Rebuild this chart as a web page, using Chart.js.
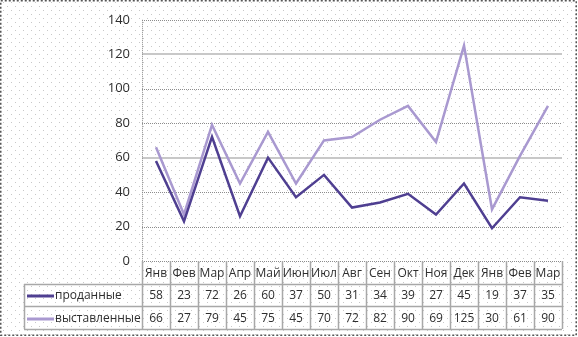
<!DOCTYPE html>
<html>
<head>
<meta charset="utf-8">
<script src="https://cdn.jsdelivr.net/npm/chart.js@4.4.1/dist/chart.umd.min.js"></script>
<style>
  html, body { margin: 0; padding: 0; background: #fff; }
  #salesChart { display: block; }
</style>
</head>
<body>
<canvas id="salesChart" width="578" height="337"></canvas>
<script>
// Месяцы и значения рядов
const months = ["Янв", "Фев", "Мар", "Апр", "Май", "Июн", "Июл", "Авг", "Сен", "Окт", "Ноя", "Дек", "Янв", "Фев", "Мар"]
const soldLabel = "проданные"
const listedLabel = "выставленные"
const sold = [58, 23, 72, 26, 60, 37, 50, 31, 34, 39, 27, 45, 19, 37, 35]
const listed = [66, 27, 79, 45, 75, 45, 70, 72, 82, 90, 69, 125, 30, 61, 90]

const soldColor = "#4f3f91"
const listedColor = "#a999d0"
const textColor = "#2e2e2e"
const tableFont = "12px 'Open Sans', sans-serif"

// фон в точку и пунктирная рамка вокруг всего рисунка
const backgroundPlugin = {
  id: "dottedBackground",
  beforeDraw(chart) {
    const ctx = chart.ctx
    const w = chart.width, h = chart.height
    ctx.save()
    ctx.fillStyle = "#ffffff"
    ctx.fillRect(0, 0, w, h)
    ctx.fillStyle = "#c8c8c8"
    let row = 0
    for (let y = 2; y < h; y += 4) {
      const shift = (row % 2) * 4
      for (let x = 3 + shift; x < w; x += 8) ctx.fillRect(x, y, 1, 1)
      row++
    }
    ctx.strokeStyle = "#555555"
    ctx.lineWidth = 1.5
    ctx.setLineDash([2, 2])
    ctx.strokeRect(0.75, 0.75, w - 2.5, h - 2.5)
    ctx.restore()
  }
}

// линии сетки рисуем сами: часть пунктиром, часть сплошные
const gridPlugin = {
  id: "plotGrid",
  beforeDatasetsDraw(chart) {
    const ctx = chart.ctx
    const area = chart.chartArea
    const y = chart.scales.y
    ctx.save()
    y.ticks.forEach(t => {
      if (t.value === 0) return
      const py = Math.round(y.getPixelForValue(t.value))
      ctx.beginPath()
      if (t.value === 60 || t.value === 120) {
        ctx.setLineDash([])
        ctx.strokeStyle = "#c8c8c8"
        ctx.lineWidth = 2
        ctx.moveTo(area.left, py)
        ctx.lineTo(area.right, py)
      } else {
        ctx.setLineDash([1, 1])
        ctx.strokeStyle = "#8c8c8c"
        ctx.lineWidth = 1
        ctx.moveTo(area.left, py + 0.5)
        ctx.lineTo(area.right, py + 0.5)
      }
      ctx.stroke()
    })
    // вертикальная ось слева
    ctx.beginPath()
    ctx.setLineDash([1, 1])
    ctx.strokeStyle = "#8c8c8c"
    ctx.lineWidth = 1
    ctx.moveTo(area.left + 0.5, area.top)
    ctx.lineTo(area.left + 0.5, area.bottom)
    ctx.stroke()
    ctx.restore()
  }
}

// таблица данных под графиком
const tablePlugin = {
  id: "dataTable",
  afterDraw(chart) {
    const ctx = chart.ctx
    const x = chart.scales.x
    const area = chart.chartArea
    const colW = (x.right - x.left) / months.length
    const top = area.bottom
    const headBottom = top + 23
    const row1Bottom = top + 45
    const row2Bottom = top + 68
    const legendLeft = 24

    ctx.save()
    // ось X
    ctx.beginPath()
    ctx.setLineDash([1, 1])
    ctx.strokeStyle = "#8c8c8c"
    ctx.lineWidth = 1
    ctx.moveTo(x.left, top + 0.5)
    ctx.lineTo(x.right, top + 0.5)
    ctx.stroke()

    ctx.setLineDash([])
    ctx.strokeStyle = "#a8a8a8"
    ctx.lineWidth = 1.5
    ctx.beginPath()
    for (let i = 0; i <= months.length; i++) {
      const px = Math.round(x.left + i * colW) + 0.5
      ctx.moveTo(px, top)
      ctx.lineTo(px, row2Bottom)
    }
    ;[headBottom, row1Bottom, row2Bottom].forEach(py => {
      ctx.moveTo(legendLeft, py + 0.5)
      ctx.lineTo(x.right, py + 0.5)
    })
    ctx.moveTo(legendLeft + 0.5, headBottom)
    ctx.lineTo(legendLeft + 0.5, row2Bottom)
    ctx.stroke()

    ctx.fillStyle = textColor
    ctx.font = tableFont
    ctx.textAlign = "center"
    ctx.textBaseline = "middle"
    const headY = (top + headBottom) / 2 + 1
    const r1Y = (headBottom + row1Bottom) / 2 + 1
    const r2Y = (row1Bottom + row2Bottom) / 2 + 1
    months.forEach((m, i) => {
      const cx = x.getPixelForValue(i)
      ctx.fillText(m, cx, headY)
      ctx.fillText(String(sold[i]), cx, r1Y)
      ctx.fillText(String(listed[i]), cx, r2Y)
    })

    // легенда в первой колонке
    const rows = [[soldLabel, soldColor, r1Y], [listedLabel, listedColor, r2Y]]
    rows.forEach(([label, color, cy]) => {
      ctx.beginPath()
      ctx.strokeStyle = color
      ctx.lineWidth = 3
      ctx.moveTo(legendLeft + 3, Math.round(cy))
      ctx.lineTo(legendLeft + 30, Math.round(cy))
      ctx.stroke()
      ctx.textAlign = "left"
      ctx.fillStyle = textColor
      ctx.fillText(label, legendLeft + 31, cy)
    })
    ctx.restore()
  }
}

new Chart(document.getElementById("salesChart"), {
  type: "line",
  data: {
    labels: months,
    datasets: [
      {
        label: soldLabel,
        data: sold,
        borderColor: soldColor,
        backgroundColor: soldColor,
        borderWidth: 2.5,
        tension: 0,
        pointRadius: 0,
        fill: false
      },
      {
        label: listedLabel,
        data: listed,
        borderColor: listedColor,
        backgroundColor: listedColor,
        borderWidth: 2.5,
        tension: 0,
        pointRadius: 0,
        fill: false
      }
    ]
  },
  options: {
    responsive: false,
    animation: false,
    devicePixelRatio: 1,
    layout: { padding: { left: 0, top: 16, right: 16, bottom: 76 } },
    plugins: {
      legend: { display: false },
      tooltip: { enabled: false }
    },
    scales: {
      x: {
        type: "category",
        offset: true,
        display: false
      },
      y: {
        min: 0,
        max: 140,
        ticks: {
          stepSize: 20,
          padding: 12,
          color: textColor,
          font: { family: "'Open Sans', sans-serif", size: 13 }
        },
        grid: { display: false, drawTicks: false },
        border: { display: false },
        afterFit(scale) { scale.width = 142 }
      }
    }
  },
  plugins: [backgroundPlugin, gridPlugin, tablePlugin]
})
</script>
</body>
</html>
